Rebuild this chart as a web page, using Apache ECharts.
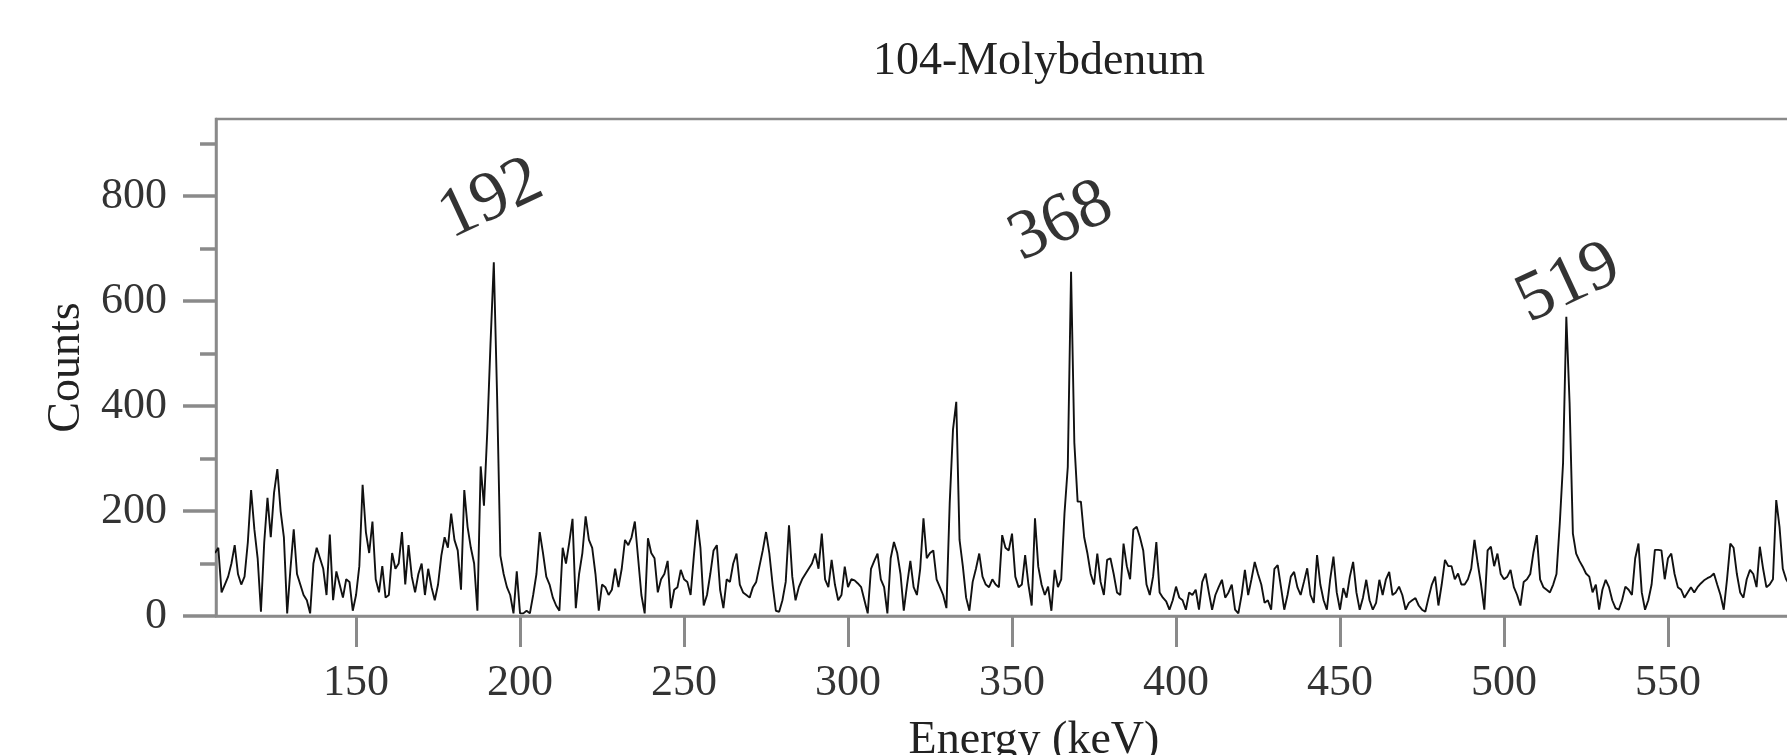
<!DOCTYPE html>
<html>
<head>
<meta charset="utf-8">
<title>104-Molybdenum</title>
<script src="https://cdn.jsdelivr.net/npm/echarts@6/dist/echarts.min.js"></script>
<style>
  html, body { margin: 0; padding: 0; background: #ffffff; }
  #chart { width: 1787px; height: 755px; }
</style>
</head>
<body>
<div id="chart"></div>
<script>
// ---------------- data ----------------
const chartTitle = '104-Molybdenum';
const xAxisTitle = 'Energy (keV)';
const yAxisTitle = 'Counts';

// first energy bin of the spectrum (keV); one bin per keV
const startEnergy = 107;

// counts per 1-keV bin (107 ... 587 keV)
const counts = [
  120,130,45,60,75,100,135,80,60,75,140,          // 107-117
  240,165,110,8,140,225,150,235,280,200,          // 118-127
  150,5,90,165,80,60,40,30,5,100,                 // 128-137
  130,110,90,40,155,30,85,60,35,70,               // 138-147
  65,10,40,95,250,160,120,180,70,45,              // 148-157
  95,35,40,120,90,100,160,60,135,75,              // 158-167
  45,80,100,40,90,55,30,60,115,150,               // 168-177
  130,195,145,125,50,240,170,130,100,10,          // 178-187
  285,210,350,520,674,420,115,80,55,40,           // 188-197
  5,85,5,5,10,5,40,80,160,120,                    // 198-207
  75,60,35,20,10,130,100,140,185,15,              // 208-217
  80,120,190,145,130,80,10,60,55,40,              // 218-227
  50,90,55,90,145,135,150,180,110,40,             // 228-237
  5,148,120,110,45,70,80,105,15,50,               // 238-247
  55,88,70,65,40,115,183,130,20,40,               // 248-257
  80,125,135,50,15,70,65,100,119,60,              // 258-267
  45,40,35,55,65,95,125,160,120,60,               // 268-277
  10,8,30,65,173,75,30,55,70,80,                  // 278-287
  90,100,119,90,157,70,55,107,60,30,              // 288-297
  40,94,55,70,68,62,55,30,5,90,                   // 298-307
  105,119,70,55,5,110,141,120,80,10,              // 308-317
  60,105,55,40,90,186,110,120,125,70,             // 318-327
  55,40,15,215,355,408,145,95,35,10,              // 328-337
  65,90,119,75,60,55,70,60,55,154,                // 338-347
  130,125,157,75,55,60,116,60,20,186,             // 348-357
  94,60,40,56,10,88,55,70,196,284,                // 358-367
  656,330,218,218,150,119,80,60,119,65,           // 368-377
  40,107,110,80,45,40,138,95,70,165,              // 378-387
  170,150,125,60,40,75,141,45,35,28,              // 388-397
  12,30,56,35,30,12,45,40,50,12,                  // 398-407
  65,81,45,12,40,55,69,35,45,60,                  // 408-417
  12,5,40,88,40,70,103,80,60,25,                  // 418-427
  30,12,90,97,55,12,40,75,84,55,                  // 428-437
  40,65,91,40,25,116,60,30,12,70,                 // 438-447
  113,45,12,53,35,75,103,45,12,35,                // 448-457
  69,30,12,25,69,40,70,84,40,45,                  // 458-467
  56,40,12,25,30,34,20,12,8,35,                   // 468-477
  60,75,20,60,107,95,95,70,81,60,                 // 478-487
  60,70,90,145,100,60,12,125,132,95,              // 488-497
  119,80,70,75,88,55,40,20,65,70,                 // 498-507
  80,122,154,70,55,50,45,60,80,176,               // 508-517
  291,570,405,157,119,105,94,81,75,45,            // 518-527
  60,12,50,69,55,30,15,12,30,56,                  // 528-537
  50,40,110,138,45,12,30,60,126,126,              // 538-547
  125,70,110,119,80,55,50,35,45,55,               // 548-557
  45,55,62,68,72,75,81,60,40,12,                  // 558-567
  70,138,130,80,45,35,70,88,80,55,                // 568-577
  132,90,55,60,70,221,170,90,70,60                // 578-587
];

// labelled photopeaks (keV)
const peakEnergies = [192, 368, 519];

// axis ticks / labels
const xTickValues = [150, 200, 250, 300, 350, 400, 450, 500, 550, 600];
const yTickValues = [0, 200, 400, 600, 800];
const yMinorTickValues = [100, 300, 500, 700, 900];

// ---------------- chart ----------------
const serif = "'Liberation Serif', 'DejaVu Serif', serif";
const axisGray = '#8a8a8a';

const spectrum = counts.map((c, i) => [startEnergy + i, c]);

// label placement nudges (pixels) for the peak annotations
const labelNudges = [[24, -58], [12, -49], [16, -29]];
const peakPoints = peakEnergies.map((e, i) => ({
  value: [e, counts[e - startEnergy]],
  label: { offset: labelNudges[i] }
}));

const chart = echarts.init(document.getElementById('chart'), null, { renderer: 'canvas' });

chart.setOption({
  backgroundColor: '#ffffff',
  animation: false,
  title: {
    text: chartTitle,
    left: 1034,
    top: 34,
    textAlign: 'center',
    textStyle: { fontFamily: serif, fontSize: 46, fontWeight: 'normal', color: '#222222' }
  },
  grid: {
    left: 216, top: 119, right: -65, bottom: 139,
    show: true, borderColor: axisGray, borderWidth: 2.5,
    containLabel: false, outerBoundsMode: 'none'
  },
  xAxis: {
    type: 'value',
    min: 107.3,
    max: 606.1,
    name: xAxisTitle,
    nameLocation: 'middle',
    nameGap: 102,
    nameTextStyle: { fontFamily: serif, fontSize: 46, color: '#222222' },
    axisLine: { show: true, onZero: false, lineStyle: { color: axisGray, width: 2.5 } },
    axisTick: { show: true, length: 31, customValues: xTickValues, lineStyle: { color: axisGray, width: 3 } },
    axisLabel: { show: true, customValues: xTickValues, margin: 45, fontFamily: serif, fontSize: 44, color: '#333333' },
    splitLine: { show: false }
  },
  yAxis: [
    {
      type: 'value',
      min: 0,
      max: 947,
      position: 'left',
      name: yAxisTitle,
      nameLocation: 'middle',
      nameGap: 122,
      nameRotate: 90,
      nameTextStyle: { fontFamily: serif, fontSize: 46, color: '#222222' },
      axisLine: { show: true, lineStyle: { color: axisGray, width: 2.5 } },
      axisTick: { show: true, length: 33, customValues: yTickValues, lineStyle: { color: axisGray, width: 3.5 } },
      axisLabel: { show: true, customValues: yTickValues, margin: 49, fontFamily: serif, fontSize: 44, color: '#333333' },
      splitLine: { show: false }
    },
    {
      type: 'value',
      min: 0,
      max: 947,
      position: 'left',
      offset: 0,
      axisLine: { show: false },
      axisTick: { show: true, length: 16, customValues: yMinorTickValues, lineStyle: { color: axisGray, width: 3.5 } },
      axisLabel: { show: false },
      splitLine: { show: false }
    }
  ],
  series: [
    {
      type: 'line',
      data: spectrum,
      showSymbol: false,
      symbol: 'none',
      smooth: false,
      lineStyle: { color: '#111111', width: 1.9 },
      silent: true,
      z: 2
    },
    {
      type: 'scatter',
      data: peakPoints,
      symbolSize: 0,
      silent: true,
      z: 5,
      label: {
        show: true,
        position: 'inside',
        align: 'center',
        verticalAlign: 'middle',
        rotate: 25,
        fontFamily: serif,
        fontSize: 70,
        color: '#000000',
        formatter: (p) => String(p.value[0])
      }
    }
  ]
});
</script>
</body>
</html>
